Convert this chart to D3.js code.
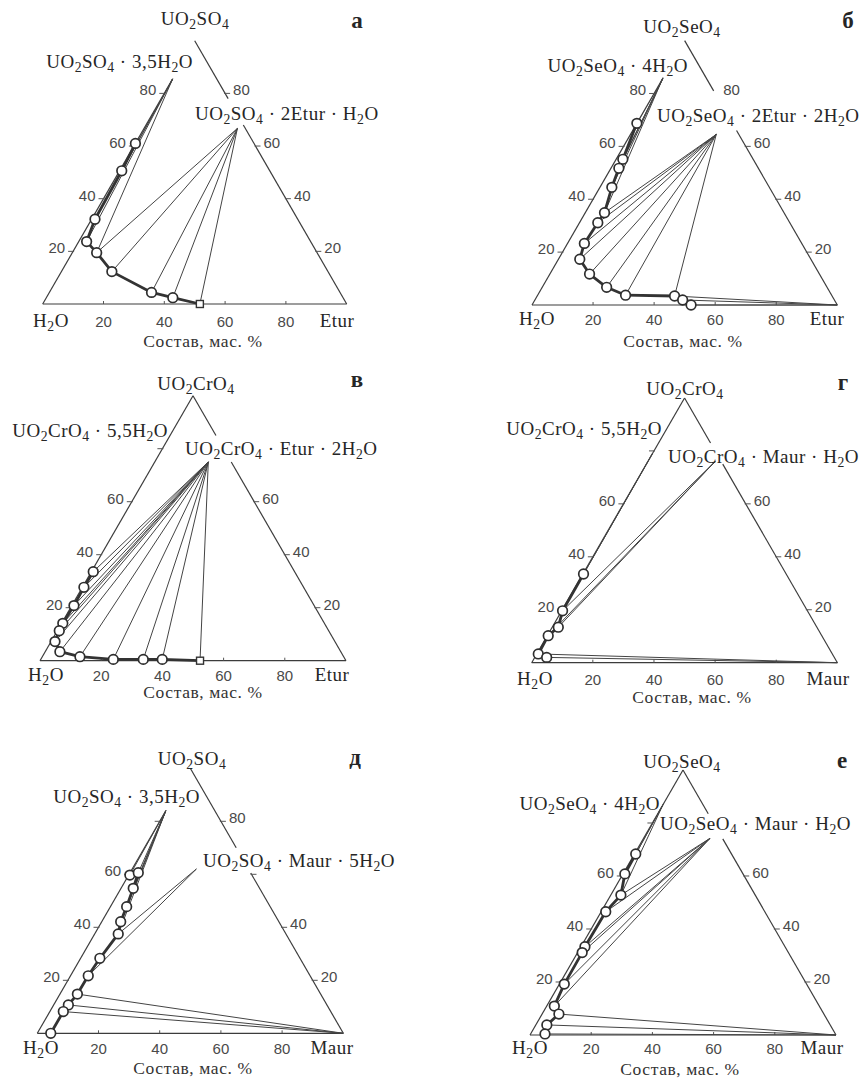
<!DOCTYPE html>
<html>
<head>
<meta charset="utf-8">
<script src="https://cdn.jsdelivr.net/npm/d3@7"></script>
<style>
  body { margin: 0; background: #fff; }
  svg { display: block; }
  .serif { font-family: "Liberation Serif", "Times New Roman", serif; fill: #262626; font-size: 19px; letter-spacing: 0.5px; }
  .cap { font-family: "Liberation Serif", "Times New Roman", serif; fill: #333; font-size: 17.5px; letter-spacing: 0.6px; }
  .letter { font-family: "Liberation Serif", "Times New Roman", serif; fill: #262626; font-size: 23px; font-weight: bold; }
  .num { font-family: "Liberation Sans", Arial, sans-serif; fill: #4a4a4a; font-size: 15px; }
</style>
</head>
<body>
<svg id="chart" width="862" height="1079"></svg>
<script>
// compositions are [additive %, uranyl salt %], water is the rest
const ticks = [20, 40, 60, 80];

const curveA = [[0, 61.0], [0.7, 50.6], [1.1, 32.2], [2.6, 23.7], [8.0, 19.5], [16.6, 12.3], [33.6, 4.4], [41.6, 2.4], [51.7, 0]];
const solidsA = [[0, 85.5], [30.7, 66.7]];
const tiesA = [[0, [1, 2, 3, 4]], [1, [4, 5, 6, 7, 8]]];

const curveB = [[0, 68.7], [2.2, 55.1], [2.6, 51.7], [3.9, 44.5], [6.3, 34.9], [6.0, 31.1], [5.5, 23.3], [7.0, 17.3], [13.0, 11.7], [21.1, 6.7], [28.8, 3.7], [45.0, 3.4], [48.4, 1.9], [52.1, 0]];
const solidsB = [[0, 85.5], [28.1, 64.5], [100, 0]];
const tiesB = [[0, [1, 2, 3, 4]], [1, [4, 5, 6, 7, 8, 9, 10, 11]], [2, [11, 12, 13]]];

const curveV = [[0.6, 33.6], [0.5, 27.7], [0.7, 20.8], [0.4, 14.1], [0.65, 11.3], [1.3, 7.2], [4.8, 3.4], [12.3, 1.5], [23.7, 0.5], [33.5, 0.5], [39.7, 0.5], [52.3, 0]];
const solidsV = [[17.5, 75]];
const tiesV = [[0, [0, 1, 2, 3, 4, 5, 6, 7, 8, 9, 10, 11]]];

const curveG = [[0.2, 33.5], [0.3, 19.6], [2.0, 13.4], [0.3, 10.2], [0.5, 3.3], [3.9, 2.0]];
const solidsG = [[0, 79], [22, 76], [100, 0]];
const tiesG = [[0, [0, 1]], [1, [1, 2, 3]], [2, [4, 5]]];

const curveD = [[0.4, 59.7], [2.7, 60.6], [4.0, 54.7], [5.3, 47.8], [6.2, 42.1], [7.7, 37.5], [6.3, 28.3], [5.8, 21.7], [5.7, 14.8], [4.8, 10.7], [4.4, 8.2], [4.4, 0]];
const solidsD = [[0, 84], [21, 62], [100, 0]];
const tiesD = [[0, [0, 1, 2, 3, 4, 5]], [1, [5, 7]], [2, [8, 9, 10]]];

const curveE = [[0.4, 68.3], [0.6, 60.8], [3.3, 52.8], [1.5, 46.5], [1.3, 33.3], [1.5, 31.1], [1.6, 19.2], [2.5, 10.9], [5.5, 7.9], [3.6, 3.8], [4.7, 0.4]];
const solidsE = [[0, 87], [21.7, 74.2], [100, 0]];
const tiesE = [[0, [0, 1, 2]], [1, [2, 3, 4, 5, 6, 7]], [2, [8, 9, 10]]];

const panelLetters = ["а", "б", "в", "г", "д", "е"];
const apexNames = ["UO_2SO_4", "UO_2SeO_4", "UO_2CrO_4", "UO_2CrO_4", "UO_2SO_4", "UO_2SeO_4"];
const hydrateNames = ["UO_2SO_4 · 3,5H_2O", "UO_2SeO_4 · 4H_2O", "UO_2CrO_4 · 5,5H_2O", "UO_2CrO_4 · 5,5H_2O", "UO_2SO_4 · 3,5H_2O", "UO_2SeO_4 · 4H_2O"];
const saltNames = ["UO_2SO_4 · 2Etur · H_2O", "UO_2SeO_4 · 2Etur · 2H_2O", "UO_2CrO_4 · Etur · 2H_2O", "UO_2CrO_4 · Maur · H_2O", "UO_2SO_4 · Maur · 5H_2O", "UO_2SeO_4 · Maur · H_2O"];
const additiveNames = ["Etur", "Etur", "Etur", "Maur", "Maur", "Maur"];
const leftTickLabels = [[20, 40, 60, 80], [20, 40, 60, 80], [20, 40, 60], [20, 40, 60], [20, 40, 60], [20, 40, 60]];
const rightTickLabels = [[20, 40, 60, 80], [20, 40, 60, 80], [20, 40, 60], [20, 40, 60], [20, 40, 80], [20, 40, 60]];
const caption = "Состав, мас. %";

const curves = [curveA, curveB, curveV, curveG, curveD, curveE];
const solids = [solidsA, solidsB, solidsV, solidsG, solidsD, solidsE];
const ties = [tiesA, tiesB, tiesV, tiesG, tiesD, tiesE];

// layout of each triangle (H2O corner, side length) and its labels
const layout = [
  { x0: 42.7, y0: 304, side: 304, leftTop: 85.5, gap: [68, 78], apex: [195, 25], letter: [357, 28], hyd: [193, 68], salt: [195, 120], h2o: 51, add: 337, base: 327, cap: [203, 347], square: true },
  { x0: 532, y0: 305, side: 305.3, leftTop: 86, gap: [66, 81], apex: [682, 33], letter: [848, 28], hyd: [688, 72], salt: [657, 122], h2o: 537, add: 827, base: 325, cap: [683, 347], square: false },
  { x0: 40, y0: 660.7, side: 306, leftTop: 100, gap: [75, 85], apex: [196, 390], letter: [357, 387], hyd: [168, 437], salt: [185, 455], h2o: 46, add: 332, base: 681, cap: [203, 698], square: true },
  { x0: 531.7, y0: 662.7, side: 305.7, leftTop: 100, gap: [75, 83], apex: [685, 395], letter: [843, 390], hyd: [662, 435], salt: [668, 463], h2o: 535, add: 828, base: 685, cap: [692, 703], square: false },
  { x0: 37.3, y0: 1033.3, side: 306, leftTop: 84, gap: [60.5, 70], apex: [192, 765], letter: [355, 765], hyd: [200, 803], salt: [203, 867], h2o: 41, add: 332, base: 1054, cap: [193, 1074], square: false },
  { x0: 530, y0: 1035, side: 306, leftTop: 100, gap: [74, 83.5], apex: [682, 768], letter: [842, 768], hyd: [660, 810], salt: [660, 830], h2o: 530, add: 822, base: 1054, cap: [680, 1075], square: false },
];

const svg = d3.select("#chart");
svg.append("rect").attr("width", 862).attr("height", 1079).attr("fill", "#fff");

function chem(sel, str) {
  const parts = str.split(/(_\d)/).filter((s) => s);
  let sub = false;
  parts.forEach((p) => {
    if (p[0] === "_") {
      sel.append("tspan").attr("dy", 4).attr("font-size", "0.72em").text(p.slice(1));
      sub = true;
    } else {
      const t = sel.append("tspan").text(p);
      if (sub) t.attr("dy", -4);
      sub = false;
    }
  });
}

function drawPanel(i) {
  const L = layout[i];
  const h = (L.side * Math.sqrt(3)) / 2;
  const xs = d3.scaleLinear().domain([0, 100]).range([L.x0, L.x0 + L.side]);
  const ys = d3.scaleLinear().domain([0, 100]).range([L.y0, L.y0 - h]);
  const px = (p) => [xs(p[0] + p[1] / 2), ys(p[1])];
  const g = svg.append("g");
  const line = d3.line();

  // triangle sides
  const sides = [
    [[0, 0], [100, 0]],
    [[0, 0], [0, L.leftTop]],
    [[100, 0], [100 - L.gap[0], L.gap[0]]],
    [[100 - L.gap[1], L.gap[1]], [0, 100]],
  ];
  g.selectAll(".side").data(sides).join("path")
    .attr("d", (d) => line(d.map(px)))
    .attr("fill", "none").attr("stroke", "#3c3c3c").attr("stroke-width", 1.2);

  // ticks
  g.selectAll(".bt").data(ticks).join("line")
    .attr("x1", (t) => xs(t)).attr("x2", (t) => xs(t))
    .attr("y1", ys(0)).attr("y2", ys(0) - 3)
    .attr("stroke", "#555");
  g.selectAll(".lt").data(ticks.filter((t) => t <= L.leftTop)).join("line")
    .attr("x1", (t) => px([0, t])[0] - 5).attr("x2", (t) => px([0, t])[0] + 1)
    .attr("y1", (t) => ys(t)).attr("y2", (t) => ys(t))
    .attr("stroke", "#555");
  g.selectAll(".rt").data(ticks.filter((t) => t < L.gap[0] || t > L.gap[1])).join("line")
    .attr("x1", (t) => px([100 - t, t])[0] - 1).attr("x2", (t) => px([100 - t, t])[0] + 5)
    .attr("y1", (t) => ys(t)).attr("y2", (t) => ys(t))
    .attr("stroke", "#555");

  // tie lines
  const tieSegs = [];
  ties[i].forEach(([s, idx]) => idx.forEach((k) => tieSegs.push([solids[i][s], curves[i][k]])));
  g.selectAll(".tie").data(tieSegs).join("path")
    .attr("d", (d) => line(d.map(px)))
    .attr("fill", "none").attr("stroke", "#444").attr("stroke-width", 1);

  // solubility curve
  g.append("path")
    .attr("d", line(curves[i].map(px)))
    .attr("fill", "none").attr("stroke", "#333").attr("stroke-width", 2.8)
    .attr("stroke-linejoin", "round");

  const pts = L.square ? curves[i].slice(0, -1) : curves[i];
  g.selectAll(".pt").data(pts).join("circle")
    .attr("cx", (d) => px(d)[0]).attr("cy", (d) => px(d)[1]).attr("r", 4.8)
    .attr("fill", "#fff").attr("stroke", "#2e2e2e").attr("stroke-width", 1.7);
  if (L.square) {
    const last = px(curves[i][curves[i].length - 1]);
    g.append("rect").attr("x", last[0] - 3.5).attr("y", last[1] - 3.5)
      .attr("width", 7).attr("height", 7)
      .attr("fill", "#fff").attr("stroke", "#333").attr("stroke-width", 1.4);
  }

  // tick labels
  g.selectAll(".bl").data(ticks).join("text").attr("class", "num")
    .attr("x", (t) => xs(t)).attr("y", L.base).attr("text-anchor", "middle").text((t) => t);
  g.selectAll(".ll").data(leftTickLabels[i]).join("text").attr("class", "num")
    .attr("x", (t) => px([0, t])[0] - 8).attr("y", (t) => ys(t) + 2)
    .attr("text-anchor", "end").text((t) => t);
  g.selectAll(".rl").data(rightTickLabels[i]).join("text").attr("class", "num")
    .attr("x", (t) => px([100 - t, t])[0] + 8).attr("y", (t) => ys(t) + 2)
    .attr("text-anchor", "start").text((t) => t);

  // names
  chem(g.append("text").attr("class", "serif").attr("x", L.apex[0]).attr("y", L.apex[1]).attr("text-anchor", "middle"), apexNames[i]);
  chem(g.append("text").attr("class", "serif").attr("x", L.hyd[0]).attr("y", L.hyd[1]).attr("text-anchor", "end"), hydrateNames[i]);
  chem(g.append("text").attr("class", "serif").attr("x", L.salt[0]).attr("y", L.salt[1]).attr("text-anchor", "start"), saltNames[i]);
  chem(g.append("text").attr("class", "serif").attr("x", L.h2o).attr("y", L.base).attr("text-anchor", "middle"), "H_2O");
  g.append("text").attr("class", "serif").attr("x", L.add).attr("y", L.base).attr("text-anchor", "middle").text(additiveNames[i]);
  g.append("text").attr("class", "cap").attr("x", L.cap[0]).attr("y", L.cap[1]).attr("text-anchor", "middle").text(caption);
  g.append("text").attr("class", "letter").attr("x", L.letter[0]).attr("y", L.letter[1]).attr("text-anchor", "middle").text(panelLetters[i]);
}

d3.range(6).forEach(drawPanel);
</script>
</body>
</html>
